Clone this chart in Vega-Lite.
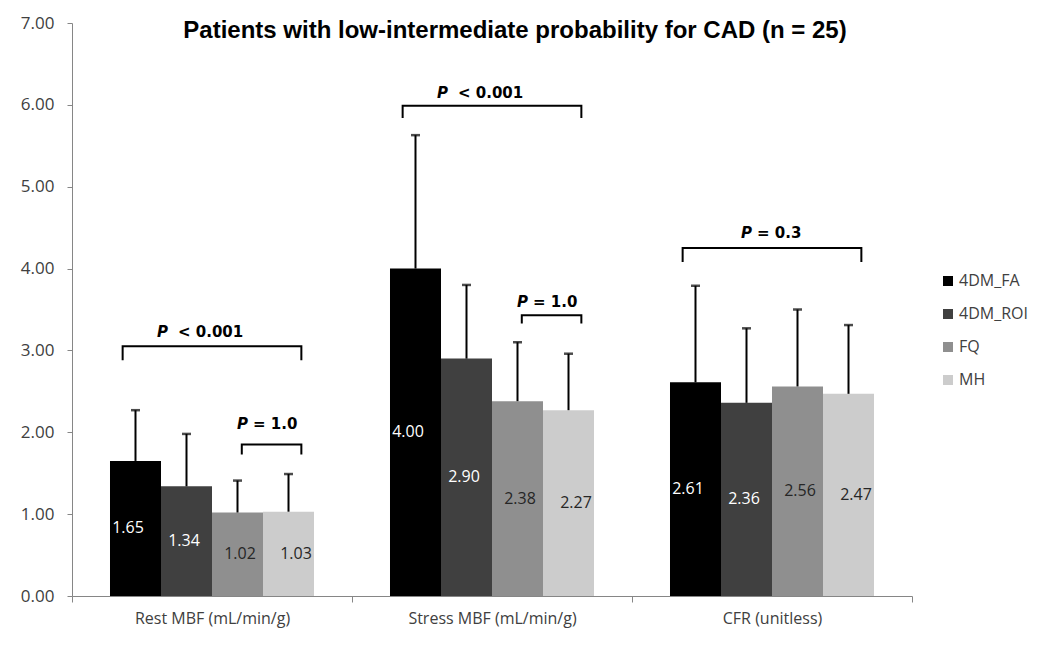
{
  "$schema": "https://vega.github.io/schema/vega-lite/v6.json",
  "width": 840,
  "height": 573,
  "autosize": {"type": "none"},
  "padding": {"left": 72, "top": 23, "right": 138, "bottom": 63},
  "background": "white",
  "title": {
    "text": "Patients with low-intermediate probability for CAD  (n = 25)",
    "font": "Liberation Sans",
    "fontSize": 24,
    "fontWeight": "bold",
    "color": "black",
    "anchor": "middle",
    "baseline": "alphabetic",
    "offset": 0,
    "dx": 23,
    "dy": 48
  },
  "config": {
    "view": {"stroke": null},
    "legend": {
      "orient": "none",
      "legendX": 868,
      "legendY": 250,
      "padding": 0
    }
  },
  "datasets": {
    "bars": [
      {"category": "Rest MBF (mL/min/g)", "series": "4DM_FA", "value": 1.65, "err_top": 2.27},
      {"category": "Rest MBF (mL/min/g)", "series": "4DM_ROI", "value": 1.34, "err_top": 1.98},
      {"category": "Rest MBF (mL/min/g)", "series": "FQ", "value": 1.02, "err_top": 1.41},
      {"category": "Rest MBF (mL/min/g)", "series": "MH", "value": 1.03, "err_top": 1.49},
      {"category": "Stress MBF (mL/min/g)", "series": "4DM_FA", "value": 4.00, "err_top": 5.63},
      {"category": "Stress MBF (mL/min/g)", "series": "4DM_ROI", "value": 2.90, "err_top": 3.80},
      {"category": "Stress MBF (mL/min/g)", "series": "FQ", "value": 2.38, "err_top": 3.10},
      {"category": "Stress MBF (mL/min/g)", "series": "MH", "value": 2.27, "err_top": 2.96},
      {"category": "CFR (unitless)", "series": "4DM_FA", "value": 2.61, "err_top": 3.79},
      {"category": "CFR (unitless)", "series": "4DM_ROI", "value": 2.36, "err_top": 3.27},
      {"category": "CFR (unitless)", "series": "FQ", "value": 2.56, "err_top": 3.50},
      {"category": "CFR (unitless)", "series": "MH", "value": 2.47, "err_top": 3.31}
    ],
    "brackets": [
      {"bracket": "rest_all", "category": "Rest MBF (mL/min/g)", "series": "4DM_FA", "level": 2.88, "step": 1},
      {"bracket": "rest_all", "category": "Rest MBF (mL/min/g)", "series": "4DM_FA", "level": 3.05, "step": 2},
      {"bracket": "rest_all", "category": "Rest MBF (mL/min/g)", "series": "MH", "level": 3.05, "step": 3},
      {"bracket": "rest_all", "category": "Rest MBF (mL/min/g)", "series": "MH", "level": 2.88, "step": 4},
      {"bracket": "rest_small", "category": "Rest MBF (mL/min/g)", "series": "FQ", "level": 1.73, "step": 1},
      {"bracket": "rest_small", "category": "Rest MBF (mL/min/g)", "series": "FQ", "level": 1.85, "step": 2},
      {"bracket": "rest_small", "category": "Rest MBF (mL/min/g)", "series": "MH", "level": 1.85, "step": 3},
      {"bracket": "rest_small", "category": "Rest MBF (mL/min/g)", "series": "MH", "level": 1.73, "step": 4},
      {"bracket": "stress_all", "category": "Stress MBF (mL/min/g)", "series": "4DM_FA", "level": 5.84, "step": 1},
      {"bracket": "stress_all", "category": "Stress MBF (mL/min/g)", "series": "4DM_FA", "level": 5.99, "step": 2},
      {"bracket": "stress_all", "category": "Stress MBF (mL/min/g)", "series": "MH", "level": 5.99, "step": 3},
      {"bracket": "stress_all", "category": "Stress MBF (mL/min/g)", "series": "MH", "level": 5.84, "step": 4},
      {"bracket": "stress_small", "category": "Stress MBF (mL/min/g)", "series": "FQ", "level": 3.33, "step": 1},
      {"bracket": "stress_small", "category": "Stress MBF (mL/min/g)", "series": "FQ", "level": 3.43, "step": 2},
      {"bracket": "stress_small", "category": "Stress MBF (mL/min/g)", "series": "MH", "level": 3.43, "step": 3},
      {"bracket": "stress_small", "category": "Stress MBF (mL/min/g)", "series": "MH", "level": 3.33, "step": 4},
      {"bracket": "cfr_all", "category": "CFR (unitless)", "series": "4DM_FA", "level": 4.08, "step": 1},
      {"bracket": "cfr_all", "category": "CFR (unitless)", "series": "4DM_FA", "level": 4.25, "step": 2},
      {"bracket": "cfr_all", "category": "CFR (unitless)", "series": "MH", "level": 4.25, "step": 3},
      {"bracket": "cfr_all", "category": "CFR (unitless)", "series": "MH", "level": 4.08, "step": 4}
    ],
    "plabels": [
      {"category": "Rest MBF (mL/min/g)", "anchor": "4DM_FA", "group": "lt", "level": 3.22, "rest": "< 0.001"},
      {"category": "Stress MBF (mL/min/g)", "anchor": "4DM_FA", "group": "lt", "level": 6.15, "rest": "< 0.001"},
      {"category": "Rest MBF (mL/min/g)", "anchor": "FQ", "group": "eq", "level": 2.10, "rest": "= 1.0"},
      {"category": "Stress MBF (mL/min/g)", "anchor": "FQ", "group": "eq", "level": 3.59, "rest": "= 1.0"},
      {"category": "CFR (unitless)", "anchor": "4DM_ROI", "group": "eq", "level": 4.43, "rest": "= 0.3"}
    ]
  },
  "layer": [
    {
      "data": {"name": "bars"},
      "mark": {"type": "bar"},
      "encoding": {
        "x": {
          "field": "category", "type": "nominal",
          "sort": ["Rest MBF (mL/min/g)", "Stress MBF (mL/min/g)", "CFR (unitless)"],
          "scale": {"paddingInner": 0, "paddingOuter": 0},
          "axis": {
            "title": null, "labelAngle": 0, "tickBand": "extent",
            "domainColor": "#868686", "tickColor": "#868686", "tickSize": 6,
            "labelPadding": 8, "labelFont": "Open Sans", "labelFontSize": 16, "labelColor": "#404040"
          }
        },
        "xOffset": {
          "field": "series", "type": "nominal",
          "scale": {"domain": ["4DM_FA", "4DM_ROI", "FQ", "MH"], "paddingInner": 0, "paddingOuter": 0.745}
        },
        "y": {
          "field": "value", "type": "quantitative",
          "scale": {"domain": [0, 7], "nice": false},
          "axis": {
            "title": null, "values": [0, 1, 2, 3, 4, 5, 6, 7], "format": ".2f", "grid": false,
            "domainColor": "#868686", "tickColor": "#868686", "tickSize": 5,
            "labelPadding": 13, "labelFont": "Open Sans", "labelFontSize": 17, "labelColor": "#404040"
          }
        },
        "color": {
          "field": "series", "type": "nominal",
          "scale": {"domain": ["4DM_FA", "4DM_ROI", "FQ", "MH"], "range": ["#000000", "#404040", "#8f8f8f", "#cccccc"]},
          "legend": {
            "title": null, "symbolType": "square", "symbolSize": 100, "symbolStrokeWidth": 0,
            "labelFont": "Open Sans", "labelFontSize": 16, "labelColor": "#404040", "rowPadding": 17, "labelOffset": 3
          }
        }
      }
    },
    {
      "data": {"name": "bars"},
      "mark": {"type": "rule", "color": "black", "strokeWidth": 2},
      "encoding": {
        "x": {"field": "category", "type": "nominal", "sort": ["Rest MBF (mL/min/g)", "Stress MBF (mL/min/g)", "CFR (unitless)"]},
        "xOffset": {"field": "series", "type": "nominal", "scale": {"domain": ["4DM_FA", "4DM_ROI", "FQ", "MH"], "paddingInner": 0, "paddingOuter": 0.745}},
        "y": {"field": "value", "type": "quantitative", "scale": {"domain": [0, 7], "nice": false}, "axis": null},
        "y2": {"field": "err_top"}
      }
    },
    {
      "data": {"name": "bars"},
      "mark": {"type": "tick", "orient": "horizontal", "color": "black", "size": 9, "thickness": 2.5},
      "encoding": {
        "x": {"field": "category", "type": "nominal", "sort": ["Rest MBF (mL/min/g)", "Stress MBF (mL/min/g)", "CFR (unitless)"]},
        "xOffset": {"field": "series", "type": "nominal", "scale": {"domain": ["4DM_FA", "4DM_ROI", "FQ", "MH"], "paddingInner": 0, "paddingOuter": 0.745}},
        "y": {"field": "err_top", "type": "quantitative", "scale": {"domain": [0, 7], "nice": false}, "axis": null}
      }
    },
    {
      "data": {"name": "brackets"},
      "mark": {"type": "line", "color": "black", "strokeWidth": 2},
      "encoding": {
        "x": {"field": "category", "type": "nominal", "sort": ["Rest MBF (mL/min/g)", "Stress MBF (mL/min/g)", "CFR (unitless)"]},
        "xOffset": {"field": "series", "type": "nominal", "scale": {"type": "point", "domain": ["4DM_FA", "4DM_ROI", "FQ", "MH"], "padding": 0.85}},
        "y": {"field": "level", "type": "quantitative", "scale": {"domain": [0, 7], "nice": false}, "axis": null},
        "detail": {"field": "bracket"},
        "order": {"field": "step", "type": "quantitative"}
      }
    },
    {
      "data": {"name": "plabels"},
      "transform": [{"filter": "datum.group === 'lt'"}],
      "mark": {"type": "text", "text": "P", "font": "DejaVu Sans", "fontSize": 15, "fontWeight": "bold", "fontStyle": "italic", "align": "right", "baseline": "middle", "dx": 40, "color": "black"},
      "encoding": {
        "x": {"field": "category", "type": "nominal", "sort": ["Rest MBF (mL/min/g)", "Stress MBF (mL/min/g)", "CFR (unitless)"]},
        "xOffset": {"field": "anchor", "type": "nominal", "scale": {"type": "point", "domain": ["4DM_FA", "4DM_ROI", "FQ", "MH"], "padding": 1.245}},
        "y": {"field": "level", "type": "quantitative", "scale": {"domain": [0, 7], "nice": false}, "axis": null}
      }
    },
    {
      "data": {"name": "plabels"},
      "transform": [{"filter": "datum.group === 'lt'"}],
      "mark": {"type": "text", "font": "DejaVu Sans", "fontSize": 15, "fontWeight": "bold", "align": "left", "baseline": "middle", "dx": 50, "color": "black"},
      "encoding": {
        "x": {"field": "category", "type": "nominal", "sort": ["Rest MBF (mL/min/g)", "Stress MBF (mL/min/g)", "CFR (unitless)"]},
        "xOffset": {"field": "anchor", "type": "nominal", "scale": {"type": "point", "domain": ["4DM_FA", "4DM_ROI", "FQ", "MH"], "padding": 1.245}},
        "y": {"field": "level", "type": "quantitative", "scale": {"domain": [0, 7], "nice": false}, "axis": null},
        "text": {"field": "rest"}
      }
    },
    {
      "data": {"name": "plabels"},
      "transform": [{"filter": "datum.group === 'eq'"}],
      "mark": {"type": "text", "text": "P", "font": "DejaVu Sans", "fontSize": 15, "fontWeight": "bold", "fontStyle": "italic", "align": "right", "baseline": "middle", "dx": 8, "color": "black"},
      "encoding": {
        "x": {"field": "category", "type": "nominal", "sort": ["Rest MBF (mL/min/g)", "Stress MBF (mL/min/g)", "CFR (unitless)"]},
        "xOffset": {"field": "anchor", "type": "nominal", "scale": {"type": "point", "domain": ["4DM_FA", "4DM_ROI", "FQ", "MH"], "padding": 1.245}},
        "y": {"field": "level", "type": "quantitative", "scale": {"domain": [0, 7], "nice": false}, "axis": null}
      }
    },
    {
      "data": {"name": "plabels"},
      "transform": [{"filter": "datum.group === 'eq'"}],
      "mark": {"type": "text", "font": "DejaVu Sans", "fontSize": 15, "fontWeight": "bold", "align": "left", "baseline": "middle", "dx": 13, "color": "black"},
      "encoding": {
        "x": {"field": "category", "type": "nominal", "sort": ["Rest MBF (mL/min/g)", "Stress MBF (mL/min/g)", "CFR (unitless)"]},
        "xOffset": {"field": "anchor", "type": "nominal", "scale": {"type": "point", "domain": ["4DM_FA", "4DM_ROI", "FQ", "MH"], "padding": 1.245}},
        "y": {"field": "level", "type": "quantitative", "scale": {"domain": [0, 7], "nice": false}, "axis": null},
        "text": {"field": "rest"}
      }
    },
    {
      "data": {"name": "bars"},
      "mark": {"type": "text", "font": "Open Sans", "fontSize": 16, "baseline": "middle", "align": "center"},
      "encoding": {
        "x": {"field": "category", "type": "nominal", "sort": ["Rest MBF (mL/min/g)", "Stress MBF (mL/min/g)", "CFR (unitless)"]},
        "xOffset": {"field": "series", "type": "nominal", "scale": {"type": "point", "domain": ["4DM_FA", "4DM_ROI", "FQ", "MH"], "padding": 1.245}},
        "y": {"field": "value", "type": "quantitative", "scale": {"domain": [0, 14], "nice": false}, "axis": null},
        "text": {"field": "value", "type": "quantitative", "format": ".2f"},
        "color": {"condition": {"test": "datum.series === '4DM_FA' || datum.series === '4DM_ROI'", "value": "white"}, "value": "#262626"}
      }
    }
  ],
  "resolve": {"scale": {"y": "independent", "xOffset": "independent"}}
}
